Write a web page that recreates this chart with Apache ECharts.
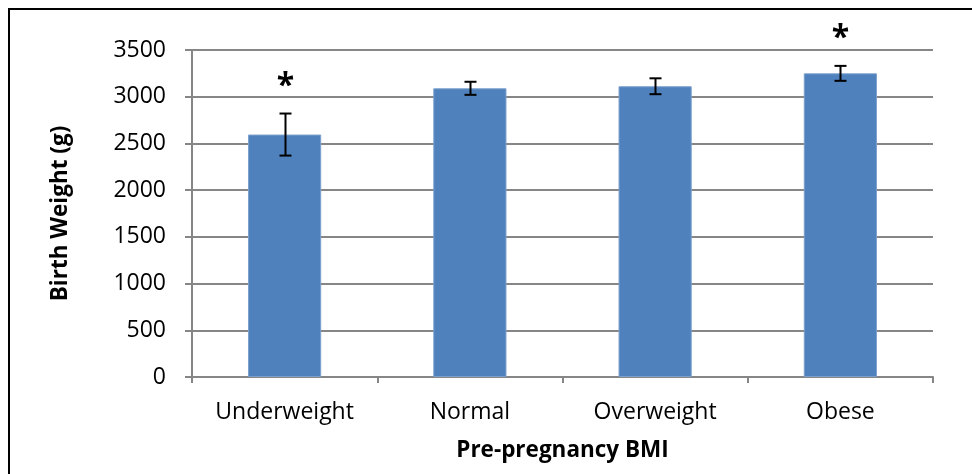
<!DOCTYPE html>
<html>
<head>
<meta charset="utf-8">
<script src="https://cdn.jsdelivr.net/npm/echarts@6/dist/echarts.min.js"></script>
<style>
  html, body { margin: 0; padding: 0; background: #fff; }
  #chart { width: 972px; height: 474px; }
</style>
</head>
<body>
<div id="chart"></div>
<script>
// Mean birth weight by pre-pregnancy BMI group, with error bars
const categories = ['Underweight', 'Normal', 'Overweight', 'Obese'];
const birthWeight = [2595, 3090, 3112, 3250];
const errorMargin = [225, 70, 85, 80];
const significance = ['*', '', '', '*'];
const yTicks = [0, 500, 1000, 1500, 2000, 2500, 3000, 3500];

const FONT = '"Open Sans", "Noto Sans", sans-serif';
const GRAY = '#868686';

const errorData = categories.map((c, i) => [
  i,
  birthWeight[i] - errorMargin[i],
  birthWeight[i] + errorMargin[i],
  significance[i]
]);

const chart = echarts.init(document.getElementById('chart'));
chart.setOption({
  animation: false,
  backgroundColor: '#ffffff',
  graphic: [{
    type: 'rect',
    shape: { x: 9, y: 9, width: 1000, height: 600 },
    style: { fill: 'none', stroke: '#000', lineWidth: 2 },
    silent: true
  }],
  grid: { left: 192, right: 39, top: 50, bottom: 97 },
  xAxis: {
    type: 'category',
    data: categories,
    name: 'Pre-pregnancy BMI',
    nameLocation: 'middle',
    nameGap: 62,
    nameTextStyle: { fontFamily: FONT, fontSize: 22.5, fontWeight: 'bold', color: '#000' },
    axisLine: { lineStyle: { color: GRAY, width: 2 } },
    axisTick: { show: true, length: 6, lineStyle: { color: GRAY, width: 2 } },
    axisLabel: { fontFamily: FONT, fontSize: 23, color: '#000', margin: 24 }
  },
  yAxis: {
    type: 'value',
    min: yTicks[0],
    max: yTicks[yTicks.length - 1],
    interval: 500,
    name: 'Birth Weight (g)',
    nameLocation: 'middle',
    nameGap: 120,
    nameRotate: 90,
    nameTextStyle: { fontFamily: FONT, fontSize: 22.5, fontWeight: 'bold', color: '#000' },
    axisLine: { show: true, lineStyle: { color: GRAY, width: 2 } },
    axisTick: { show: true, length: 7, lineStyle: { color: GRAY, width: 2 } },
    axisLabel: {
      fontFamily: FONT, fontSize: 23, color: '#000', margin: 26,
      formatter: function (v) { return String(v); }
    },
    splitLine: { lineStyle: { color: GRAY, width: 2 } }
  },
  series: [
    {
      type: 'bar',
      data: birthWeight,
      barWidth: '39.5%',
      itemStyle: { color: '#4F81BD', borderColor: '#7BA0CD', borderWidth: 1 },
      z: 2
    },
    {
      type: 'custom',
      data: errorData,
      z: 3,
      renderItem: function (params, api) {
        const lo = api.coord([api.value(0), api.value(1)]);
        const hi = api.coord([api.value(0), api.value(2)]);
        const x = Math.round(lo[0]) + 0.5;
        const cap = 6;
        const st = { stroke: '#000', lineWidth: 2 };
        const children = [
          { type: 'line', shape: { x1: x, y1: lo[1], x2: x, y2: hi[1] }, style: st },
          { type: 'line', shape: { x1: x - cap, y1: hi[1], x2: x + cap, y2: hi[1] }, style: st },
          { type: 'line', shape: { x1: x - cap, y1: lo[1], x2: x + cap, y2: lo[1] }, style: st }
        ];
        const mark = errorData[params.dataIndex][3];
        if (mark) {
          children.push({
            type: 'text',
            style: {
              text: mark, x: x, y: hi[1] - 27,
              fontFamily: FONT, fontSize: 32, fontWeight: 'bold',
              fill: '#000', textAlign: 'center', textVerticalAlign: 'middle'
            }
          });
        }
        return { type: 'group', children: children };
      }
    }
  ]
});
</script>
</body>
</html>
